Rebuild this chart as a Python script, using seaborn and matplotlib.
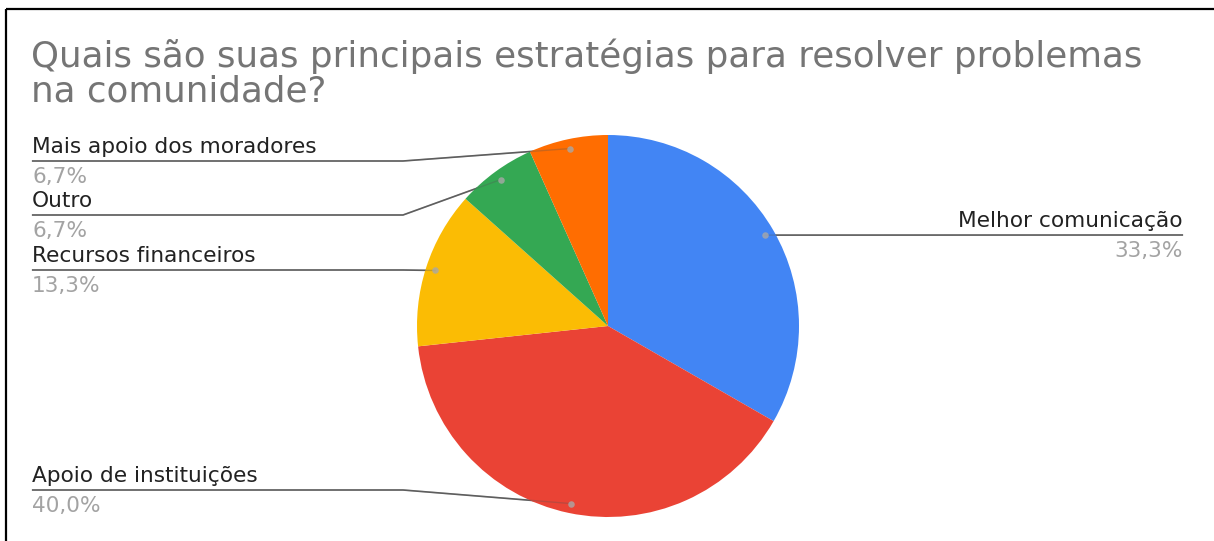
import matplotlib
matplotlib.use("Agg")
import matplotlib.pyplot as plt
import numpy as np
import seaborn as sns

# Survey answers (share of respondents, %)
categories = [
    "Melhor comunicação",
    "Apoio de instituições",
    "Recursos financeiros",
    "Outro",
    "Mais apoio dos moradores",
]
shares = [33.3, 40.0, 13.3, 6.7, 6.7]
slice_colors = ["#4285F4", "#EA4335", "#FBBC04", "#34A853", "#FF6D01"]
title_lines = [
    "Quais são suas principais estratégias para resolver problemas",
    "na comunidade?",
]

# Canvas in pixel units (y measured downward from the top edge)
W, H = 1214, 541
def Y(py):
    return H - py

sns.set_theme(style="white")
plt.rcParams["font.family"] = ["DejaVu Sans"]
palette = sns.color_palette(slice_colors)

fig = plt.figure(figsize=(W / 100, H / 100), dpi=100)
ax = fig.add_axes([0, 0, 1, 1])

cx, cy, R = 608, 326, 191
wedges, _ = ax.pie(
    shares,
    colors=palette,
    startangle=90,
    counterclock=False,
    center=(cx, Y(cy)),
    radius=R,
    wedgeprops=dict(linewidth=0, zorder=2),
)
ax.set_aspect("auto")
ax.set_xlim(0, W)
ax.set_ylim(0, H)
ax.axis("off")

# Label placement: side of the chart and height of each leader line
label_side = ["right", "left", "left", "left", "left"]
leader_y = [235, 490, 270, 215, 161]
left_x, right_x, bend_left = 32, 1183, 403

name_color = "#222222"
pct_color = "#a3a3a3"
line_color = "#626262"
fs_label = 15.6

for wedge, name, val, side, ly in zip(wedges, categories, shares, label_side, leader_y):
    mid = np.deg2rad((wedge.theta1 + wedge.theta2) / 2)
    dx = cx + 0.95 * R * np.cos(mid)
    dy = Y(cy) + 0.95 * R * np.sin(mid)
    if side == "left":
        xs = [left_x, bend_left, dx]
        tx, ha = left_x, "left"
    else:
        xs = [right_x, dx]
        tx, ha = right_x, "right"
    ys = [Y(ly)] * (len(xs) - 1) + [dy]
    # leader line: solid outside the pie, faint where it crosses the slice
    ax.plot(xs, ys, color=line_color, lw=1.2, zorder=1, solid_capstyle="butt")
    ax.plot(xs, ys, color="#555555", lw=1.0, alpha=0.3, zorder=3)
    ax.scatter([dx], [dy], s=22, color="#a8a8a8", alpha=0.8, linewidths=0, zorder=4)
    pct = f"{val:.1f}%".replace(".", ",")
    ax.text(tx, Y(ly - 8), name, ha=ha, va="baseline", fontsize=fs_label, color=name_color)
    ax.text(tx, Y(ly + 22), pct, ha=ha, va="baseline", fontsize=fs_label, color=pct_color)

# Title
for line, base in zip(title_lines, [67, 101]):
    ax.text(31, Y(base), line, ha="left", va="baseline", fontsize=25.7, color="#757575")

# Frame along the top and left edges
ax.plot([6, W], [Y(9), Y(9)], color="black", lw=1.6, zorder=5, solid_capstyle="butt")
ax.plot([6, 6], [Y(9), 0], color="black", lw=1.6, zorder=5, solid_capstyle="butt")

fig.savefig("out.png", dpi=100, facecolor="white")
